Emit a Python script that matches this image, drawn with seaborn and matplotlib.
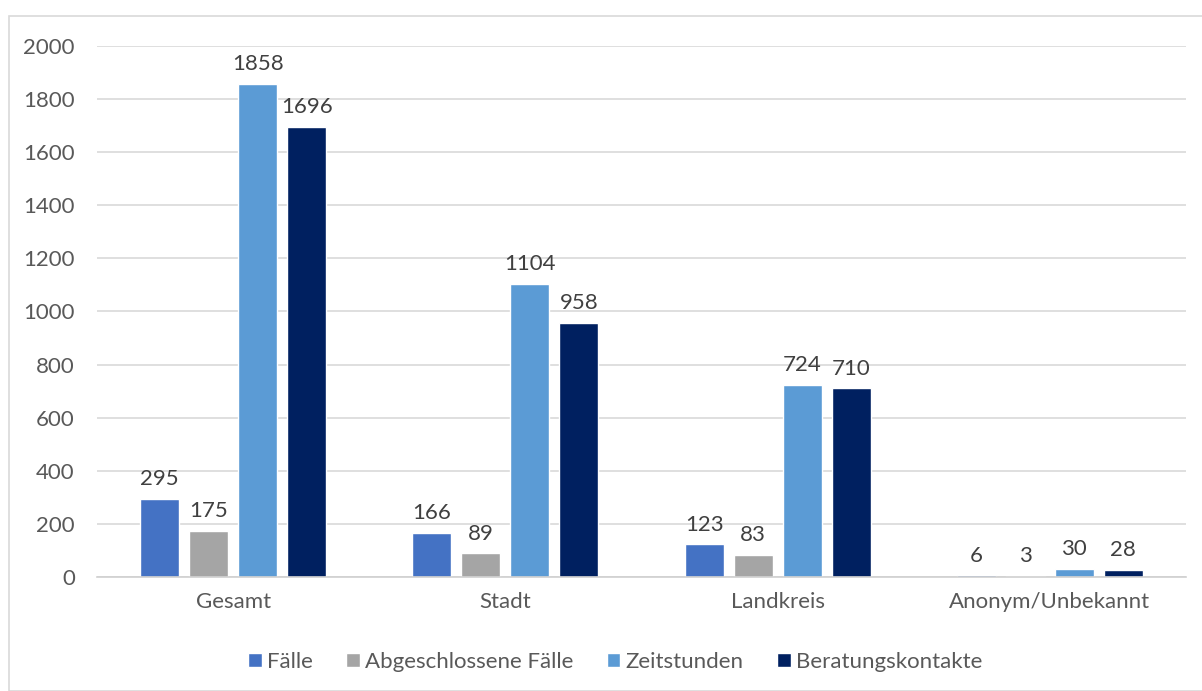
import pandas as pd
import matplotlib.pyplot as plt
import seaborn as sns
from matplotlib.patches import Rectangle

# Values
regions = ['Gesamt', 'Stadt', 'Landkreis', 'Anonym/Unbekannt']
series = ['Fälle', 'Abgeschlossene Fälle', 'Zeitstunden', 'Beratungskontakte']
faelle = [295, 166, 123, 6]
abgeschlossen = [175, 89, 83, 3]
zeitstunden = [1858, 1104, 724, 30]
kontakte = [1696, 958, 710, 28]
colors = ['#4472C4', '#A5A5A5', '#5B9BD5', '#002060']

df = pd.DataFrame({
    'Region': regions * 4,
    'Serie': [s for s in series for _ in regions],
    'Wert': faelle + abgeschlossen + zeitstunden + kontakte,
})

sns.set_style('white')
plt.rcParams['font.family'] = ['Lato', 'DejaVu Sans']
text_color = '#595959'

fig = plt.figure(figsize=(12.02, 6.91), dpi=100)
ax = fig.add_axes([0.0807, 0.165, 0.906, 0.7686])

sns.barplot(data=df, x='Region', y='Wert', hue='Serie', order=regions,
            hue_order=series, palette=colors, width=0.72, gap=0.2,
            saturation=1, ax=ax, legend=True)

for c in ax.containers:
    ax.bar_label(c, padding=7, fontsize=16, color='#404040')

ax.set_ylim(0, 2000)
ax.set_yticks(range(0, 2001, 200))
ax.set_xlim(-0.5, 3.5)
ax.set_xlabel('')
ax.set_ylabel('')
ax.yaxis.grid(True, color='#D9D9D9', linewidth=1.2)
ax.set_axisbelow(True)
for s in ['left', 'right', 'top']:
    ax.spines[s].set_visible(False)
ax.spines['bottom'].set_color('#D0D0D0')
ax.spines['bottom'].set_linewidth(1.2)
ax.tick_params(axis='both', length=0, labelsize=16, colors=text_color)
ax.tick_params(axis='y', pad=16)
ax.tick_params(axis='x', pad=11)

handles, labels = ax.get_legend_handles_labels()
ax.get_legend().remove()
fig.legend(handles, labels, loc='center', bbox_to_anchor=(0.512, 1 - 662 / 691),
           ncol=4, frameon=False, fontsize=16, labelcolor=text_color,
           handlelength=0.6, handleheight=0.6, handletextpad=0.25, columnspacing=1.5)

# outer chart frame
fig.patches.append(Rectangle((9 / 1202, 0), 1.0, 1 - 16 / 691, transform=fig.transFigure,
                             fill=False, edgecolor='#D9D9D9', linewidth=1.2))

fig.savefig('out.png', dpi=100)
